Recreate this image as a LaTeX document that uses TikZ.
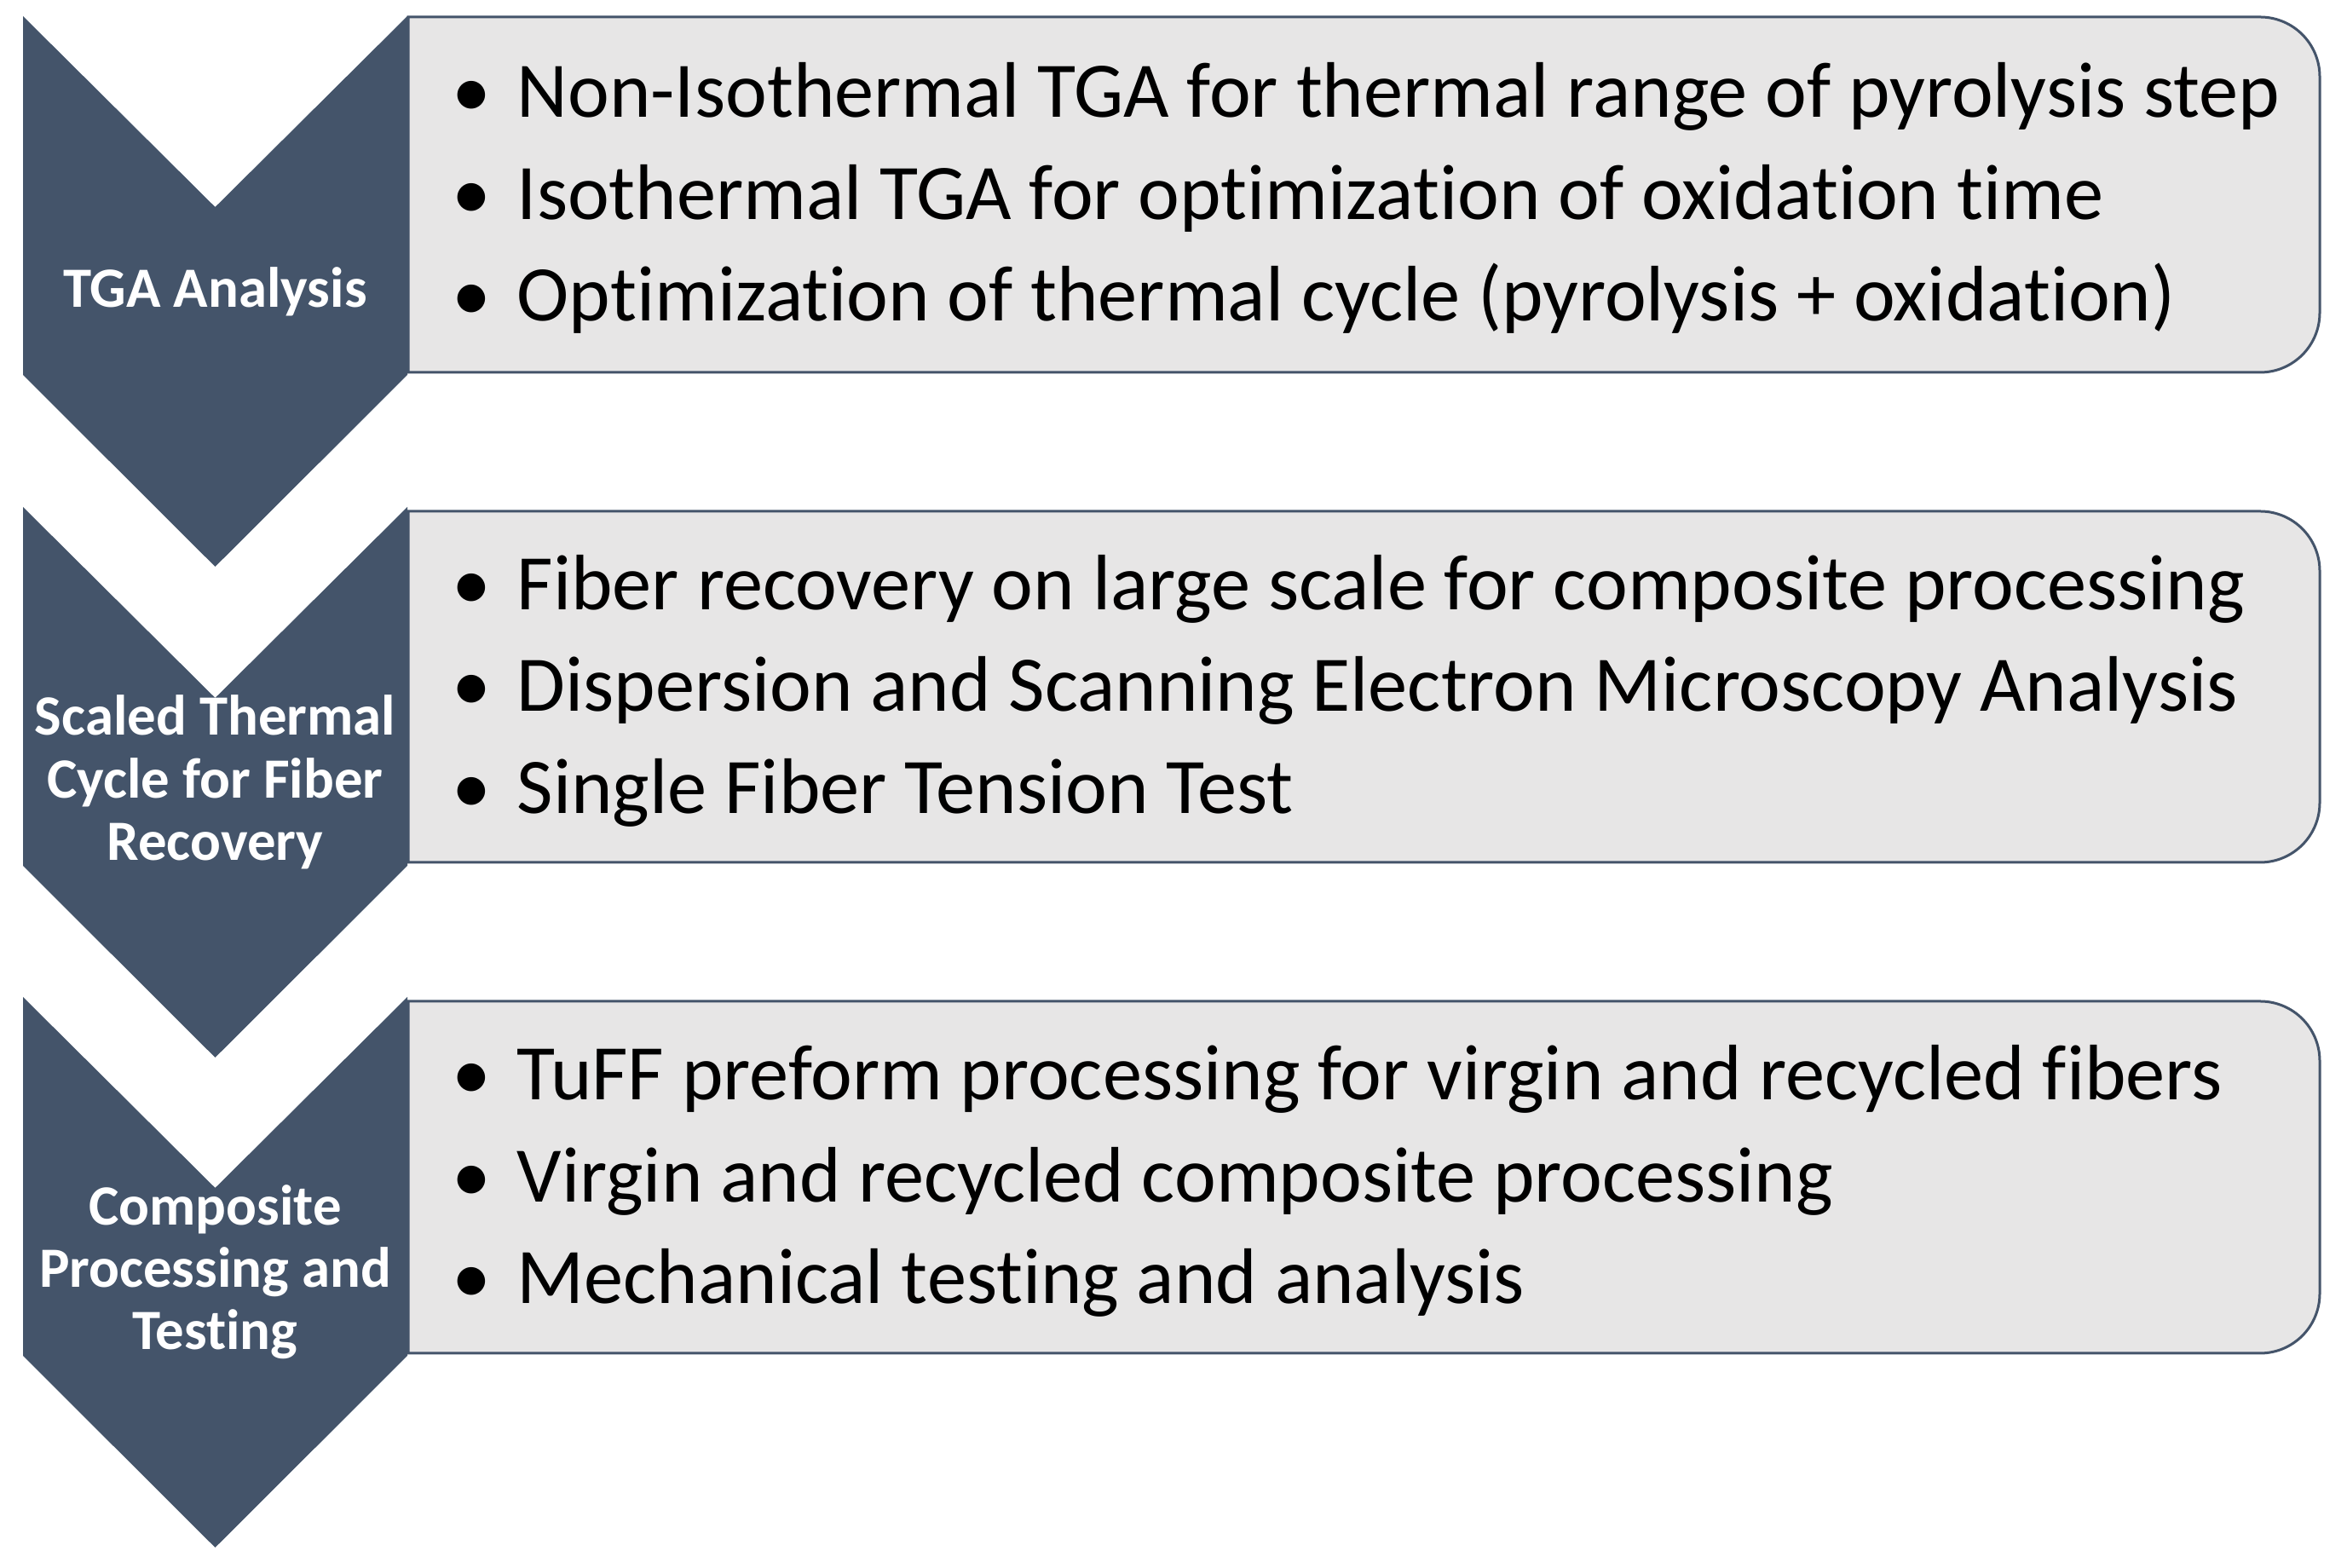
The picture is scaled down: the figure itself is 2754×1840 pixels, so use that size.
\documentclass[tikz,border=0pt]{standalone}
\usepackage{fontspec}
\setmainfont{Carlito}[Ligatures=NoCommon]
\definecolor{slate}{HTML}{44546A}
\definecolor{boxgray}{HTML}{E7E6E6}
\begin{document}
\begin{tikzpicture}[x=0.25pt,y=0.25pt,
  chevron/.style={fill=slate, draw=none},
  panel/.style={fill=boxgray, draw=slate, line width=0.75pt},
  lbl/.style={text=white, font=\fontsize{16.7}{18.3}\selectfont\bfseries, align=center, inner sep=0pt},
  item/.style={font=\fontsize{23.1}{28}\selectfont, anchor=base west, inner sep=0pt},
  bul/.style={font=\fontsize{23}{28}\selectfont, anchor=base, inner sep=0pt}]
\useasboundingbox (0,0) rectangle (2754,1840);
\fill[white] (0,0) rectangle (2754,1840);

% panels
\draw[panel] (479,1820) -- (2652,1820) arc[start angle=90,end angle=0,radius=17.5pt] -- (2722,1473) arc[start angle=0,end angle=-90,radius=17.5pt] -- (479,1403) -- cycle;
\draw[panel] (479,1240) -- (2652,1240) arc[start angle=90,end angle=0,radius=17.5pt] -- (2722,898) arc[start angle=0,end angle=-90,radius=17.5pt] -- (479,828) -- cycle;
\draw[panel] (479,665) -- (2652,665) arc[start angle=90,end angle=0,radius=17.5pt] -- (2722,322) arc[start angle=0,end angle=-90,radius=17.5pt] -- (479,252) -- cycle;

% chevrons
\fill[chevron] (27,1821) -- (252.5,1597) -- (478,1821) -- (478,1400) -- (252.5,1175) -- (27,1400) -- cycle;
\fill[chevron] (27,1245) -- (252.5,1021) -- (478,1245) -- (478,824) -- (252.5,599) -- (27,824) -- cycle;
\fill[chevron] (27,670) -- (252.5,446) -- (478,670) -- (478,249) -- (252.5,24) -- (27,249) -- cycle;

% chevron labels
\node[lbl] (lbl1) at (252.5,1498) {TGA Analysis};
\node[lbl] (lbl2) at (252.5,922) {Scaled Thermal\\Cycle for Fiber\\Recovery};
\node[lbl] (lbl3) at (252.5,347) {Composite\\Processing and\\Testing};

% panel 1 items
\node[bul] (d1a) at (553,1702) {•};
\node[item] (t1a) at (606,1702) {Non-Isothermal TGA for thermal range of pyrolysis step};
\node[bul] (d1b) at (553,1582.5) {•};
\node[item] (t1b) at (606,1582.5) {Isothermal TGA for optimization of oxidation time};
\node[bul] (d1c) at (553,1463) {•};
\node[item] (t1c) at (606,1463) {Optimization of thermal cycle (pyrolysis + oxidation)};

% panel 2 items
\node[bul] (d2a) at (553,1124.5) {•};
\node[item] (t2a) at (606,1124.5) {Fiber recovery on large scale for composite processing};
\node[bul] (d2b) at (553,1005) {•};
\node[item] (t2b) at (606,1005) {Dispersion and Scanning Electron Microscopy Analysis};
\node[bul] (d2c) at (553,885.5) {•};
\node[item] (t2c) at (606,885.5) {Single Fiber Tension Test};

% panel 3 items
\node[bul] (d3a) at (553,549) {•};
\node[item] (t3a) at (606,549) {TuFF preform processing for virgin and recycled fibers};
\node[bul] (d3b) at (553,429.5) {•};
\node[item] (t3b) at (606,429.5) {Virgin and recycled composite processing};
\node[bul] (d3c) at (553,310) {•};
\node[item] (t3c) at (606,310) {Mechanical testing and analysis};
\end{tikzpicture}
\end{document}
